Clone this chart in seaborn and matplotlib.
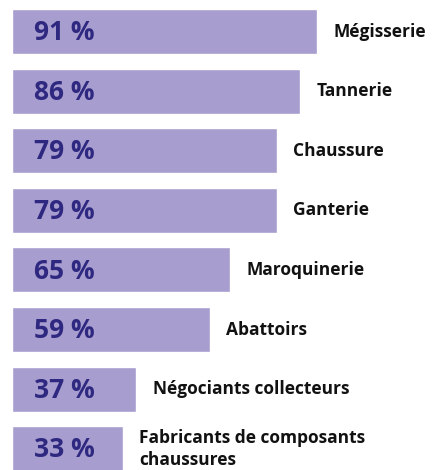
import numpy as np
import pandas as pd
import matplotlib
matplotlib.use("Agg")
import matplotlib.pyplot as plt
import seaborn as sns

# données
categories = ["Mégisserie", "Tannerie", "Chaussure", "Ganterie", "Maroquinerie",
              "Abattoirs", "Négociants collecteurs", "Fabricants de composants\nchaussures"]
valeurs = [91, 86, 79, 79, 65, 59, 37, 33]

df = pd.DataFrame({"secteur": categories, "part": valeurs})

sns.set_theme(style="white")
plt.rcParams['font.family'] = ['Open Sans', 'DejaVu Sans']

fig = plt.figure(figsize=(4.4, 4.7), dpi=100)
ax = fig.add_axes([0, 0, 1, 1])

sns.barplot(data=df, x="part", y="secteur", orient="h", color="#a79dce",
            saturation=1, width=0.755, ax=ax)

for i, (cat, v) in enumerate(zip(categories, valeurs)):
    ax.text(6.6, i + 0.02, f"{v} %", ha="left", va="center", fontsize=19,
            color="#2e2880", fontweight="bold")
    ax.text(v + 5.0, i, cat, ha="left", va="center", fontsize=12.5,
            color="#111111", fontweight="bold", linespacing=1.3)

ax.set_xlim(-12 / 3.35, 428 / 3.35)
ax.set_ylim(7.357, -0.529)
ax.axis("off")

fig.savefig("out.png", dpi=100)
